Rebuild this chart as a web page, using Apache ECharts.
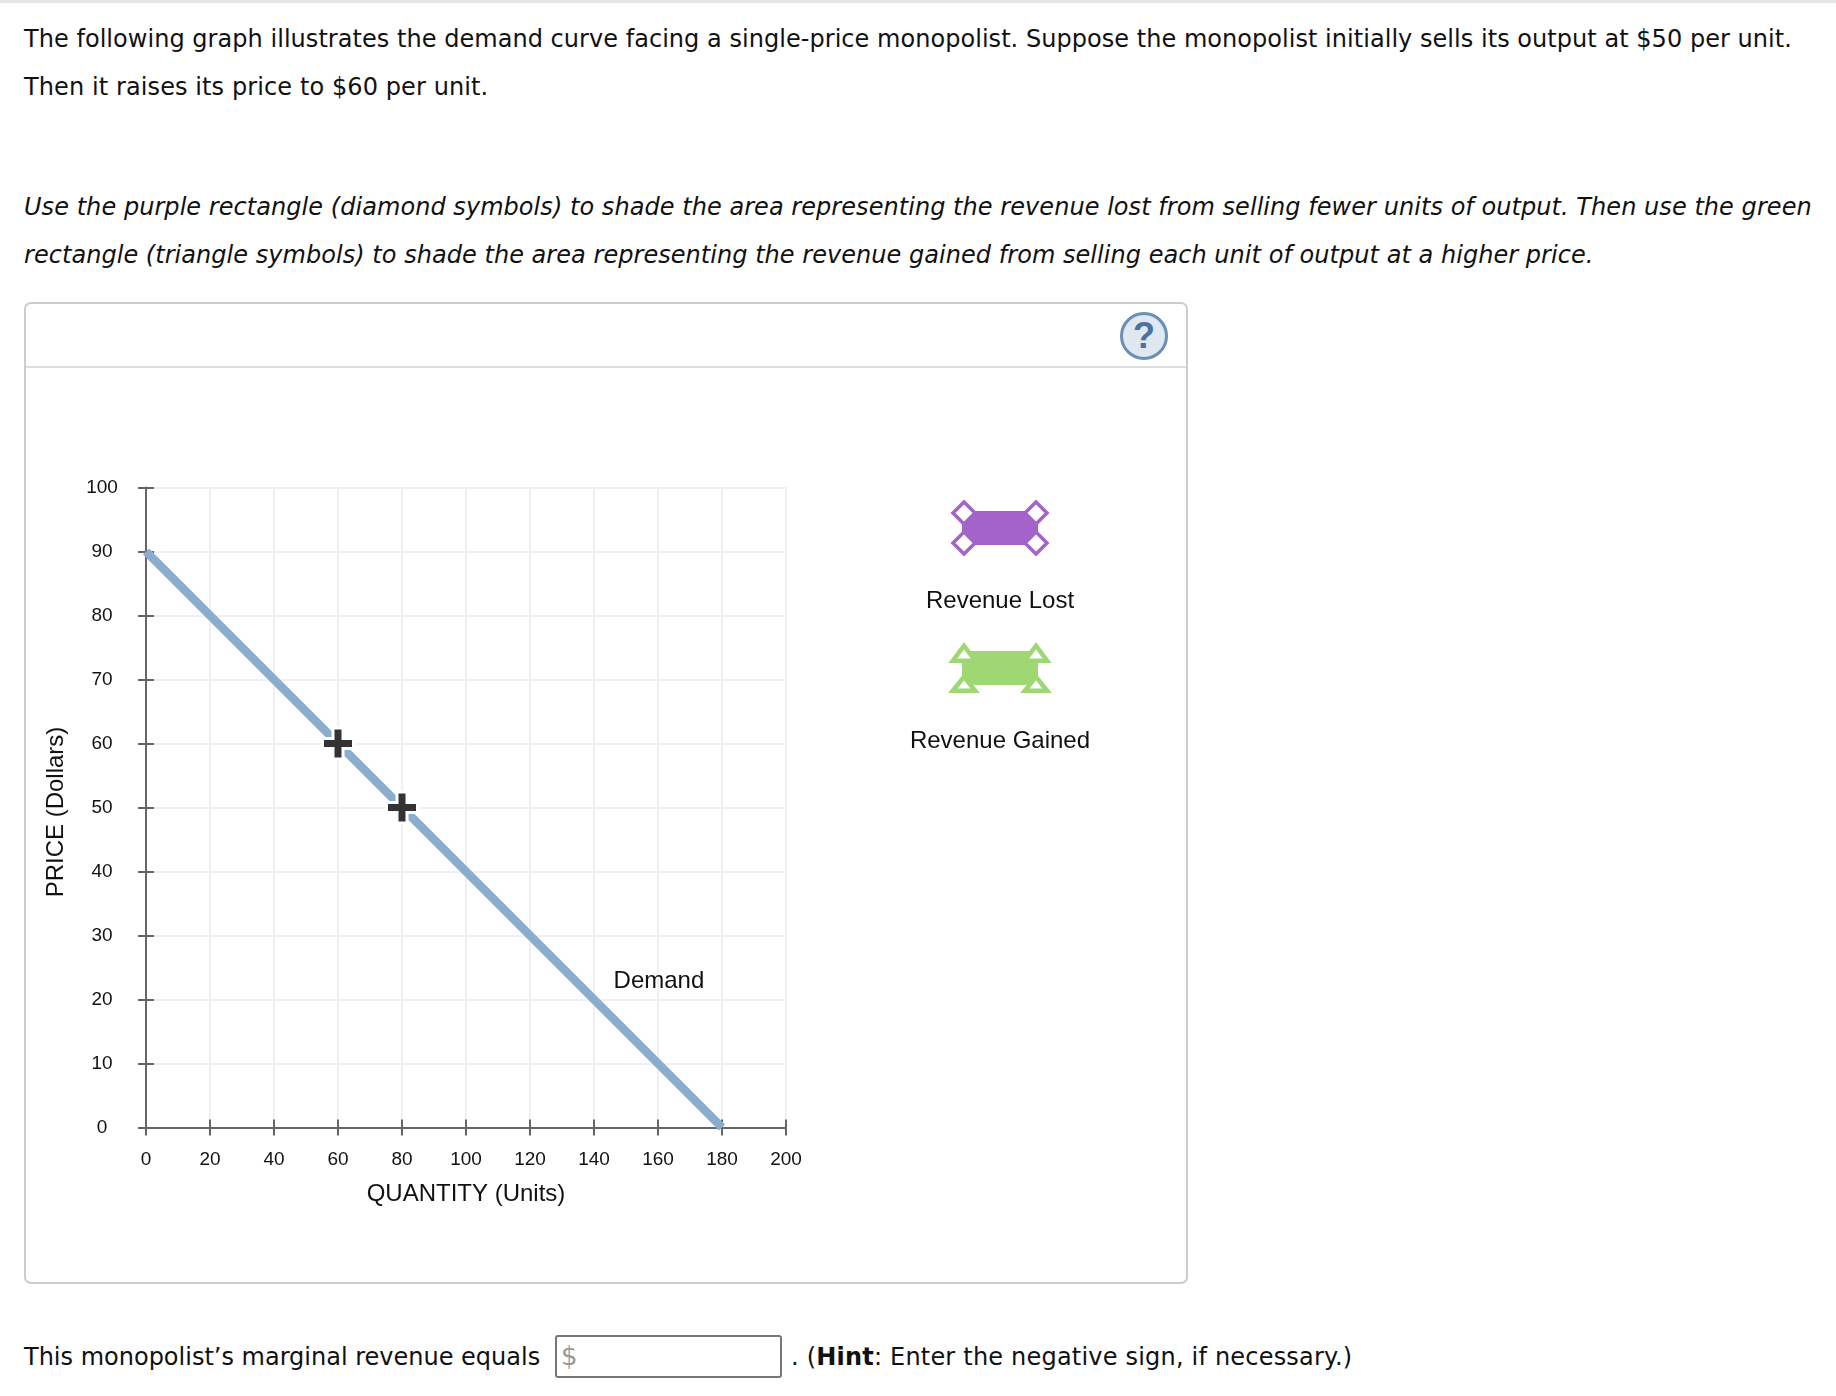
<!DOCTYPE html>
<html>
<head>
<meta charset="utf-8">
<script src="https://cdn.jsdelivr.net/npm/echarts@6/dist/echarts.min.js"></script>
<style>
html,body{margin:0;padding:0;background:#fff;width:1836px;height:1396px;overflow:hidden}
.t{position:absolute;left:24px;white-space:nowrap;font-family:"DejaVu Sans",sans-serif;font-size:24px;line-height:30px;color:#111}
#topbar{position:absolute;left:0;top:0;width:1836px;height:3px;background:#e6e6e6}
#panel{position:absolute;left:24px;top:302px;width:1160px;height:978px;border:2px solid #ccc;border-radius:7px;box-sizing:content-box}
#hdr{position:absolute;left:26px;top:366px;width:1160px;height:2px;background:#ddd}
#help{position:absolute;left:1120px;top:312px;width:48px;height:48px;border-radius:50%;background:#dfe7f0;border:3px solid #6a8fb6;box-sizing:border-box;color:#4a72a0;font:bold 36px/41px "Liberation Sans",sans-serif;text-align:center}
#box{position:absolute;left:555px;top:1335px;width:227px;height:43px;border:2px solid #777;border-radius:3px;box-sizing:border-box;color:#999;font:26px/39px "DejaVu Sans",sans-serif;padding-left:4px}
#chart{position:absolute;left:0;top:0;width:1836px;height:1396px}
</style>
</head>
<body>
<div id="topbar"></div>
<div class="t" style="top:24px;letter-spacing:.04px">The following graph illustrates the demand curve facing a single-price monopolist. Suppose the monopolist initially sells its output at $50 per unit.</div>
<div class="t" style="top:72px;letter-spacing:.1px">Then it raises its price to $60 per unit.</div>
<div class="t" style="top:192px;font-style:italic;letter-spacing:.05px">Use the purple rectangle (diamond symbols) to shade the area representing the revenue lost from selling fewer units of output. Then use the green</div>
<div class="t" style="top:240px;font-style:italic;letter-spacing:.04px">rectangle (triangle symbols) to shade the area representing the revenue gained from selling each unit of output at a higher price.</div>
<div id="panel"></div>
<div id="hdr"></div>
<div id="help">?</div>
<div class="t" style="top:1342px">This monopolist’s marginal revenue equals</div>
<div id="box">$</div>
<div class="t" style="top:1342px;left:791px;letter-spacing:.2px">. (<b>Hint</b>: Enter the negative sign, if necessary.)</div>
<div id="chart"></div>
<script>
const demandCurve = [[0, 90], [180, 0]];
const pricePoints = [[60, 60], [80, 50]];
const demandLabelPoint = [[160.3, 22.9]];
const demandLabel = 'Demand';
const xTitle = 'QUANTITY (Units)';
const yTitle = 'PRICE (Dollars)';
const xRange = [0, 200], xStep = 20;
const yRange = [0, 100], yStep = 10;
const legendLost = 'Revenue Lost';
const legendGained = 'Revenue Gained';

const PURPLE = '#a463c9', GREEN = '#9fd873', AXIS = '#666', GRID = '#f0f0f0';
const sans = '"Liberation Sans", Arial, sans-serif';
const plus = 'path://M10.5,0h7v10.5h10.5v7h-10.5v10.5h-7v-10.5h-10.5v-7h10.5z';
const plusHalo = 'path://M10.5,0h13v10.5h10.5v13h-10.5v10.5h-13v-10.5h-10.5v-13h10.5z';

function base(extra) {
  return Object.assign({
    type: 'value',
    axisLine: {show: true, onZero: false, lineStyle: {color: AXIS, width: 2}},
    axisTick: {show: true, length: 8, lineStyle: {color: AXIS, width: 2}},
    splitLine: {show: false},
    axisLabel: {show: false}
  }, extra);
}
const xCommon = {min: xRange[0], max: xRange[1], interval: xStep, position: 'bottom'};
const yCommon = {min: yRange[0], max: yRange[1], interval: yStep, position: 'left'};

function diamond(cx, cy) {
  const r = 11;
  return {type: 'polygon', shape: {points: [[cx, cy - r], [cx + r, cy], [cx, cy + r], [cx - r, cy]]},
    style: {fill: '#fff', stroke: PURPLE, lineWidth: 3.5}, z: 20};
}
function triangle(cx, apexY, baseY) {
  const w = 11.2;
  return {type: 'polygon', shape: {points: [[cx, apexY + 3.8], [cx + w, baseY - 2.25], [cx - w, baseY - 2.25]]},
    style: {fill: '#fff', stroke: GREEN, lineWidth: 4.5}, z: 20};
}
function legendText(s, y) {
  return {type: 'text', x: 1000, y: y, z: 20,
    style: {text: s, fill: '#111', font: '24px ' + sans, textAlign: 'center', textVerticalAlign: 'middle'}};
}

const chart = echarts.init(document.getElementById('chart'), null, {renderer: 'canvas'});
chart.setOption({
  animation: false,
  backgroundColor: 'transparent',
  grid: {left: 146, top: 487.5, width: 640, height: 640, containLabel: false},
  xAxis: [
    base(Object.assign({}, xCommon, {
      name: xTitle, nameLocation: 'middle', nameGap: 54.5,
      nameTextStyle: {fontFamily: sans, fontSize: 24, color: '#111'},
      splitLine: {show: true, lineStyle: {color: GRID, width: 2}},
      axisLabel: {show: true, margin: 23, fontFamily: sans, fontSize: 19, color: '#111'}
    })),
    base(Object.assign({}, xCommon, {axisLine: {show: false}, axisTick: {show: true, inside: true, length: 8, lineStyle: {color: AXIS, width: 2}}}))
  ],
  yAxis: [
    base(Object.assign({}, yCommon, {
      name: yTitle, nameLocation: 'middle', nameGap: 78, nameRotate: 90,
      nameTextStyle: {fontFamily: sans, fontSize: 24, color: '#111', padding: [0, 9, 0, 0]},
      splitLine: {show: true, lineStyle: {color: GRID, width: 2}},
      axisLabel: {show: true, margin: 44, align: 'center', padding: [5, 0, 0, 0], fontFamily: sans, fontSize: 19, color: '#111'}
    })),
    base(Object.assign({}, yCommon, {axisLine: {show: false}, axisTick: {show: true, inside: true, length: 8, lineStyle: {color: AXIS, width: 2}}}))
  ],
  series: [
    {type: 'line', data: demandCurve, showSymbol: false, symbol: 'none', z: 3,
      lineStyle: {color: '#8aaccf', width: 8.5, cap: 'butt'}},
    {type: 'scatter', data: pricePoints, symbol: plusHalo, symbolSize: 34, z: 4,
      itemStyle: {color: '#fff', opacity: 1}},
    {type: 'scatter', data: pricePoints, symbol: plus, symbolSize: 28, z: 5,
      itemStyle: {color: '#333', opacity: 1}},
    {type: 'scatter', data: demandLabelPoint, symbol: 'circle', symbolSize: 1, z: 6,
      itemStyle: {color: 'rgba(255,255,255,0)', opacity: 1},
      label: {show: true, position: 'inside', formatter: demandLabel, fontFamily: sans, fontSize: 24, color: '#111'}}
  ],
  graphic: {elements: [
    {type: 'rect', shape: {x: 962, y: 511, width: 76, height: 34}, style: {fill: PURPLE}, z: 19},
    diamond(964, 513), diamond(1036, 513), diamond(964, 543), diamond(1036, 543),
    legendText(legendLost, 601),
    {type: 'rect', shape: {x: 962, y: 651, width: 76, height: 34}, style: {fill: GREEN}, z: 19},
    triangle(964, 642, 663), triangle(1036, 642, 663), triangle(964, 673, 693), triangle(1036, 673, 693),
    legendText(legendGained, 741)
  ]}
});
</script>
</body>
</html>
